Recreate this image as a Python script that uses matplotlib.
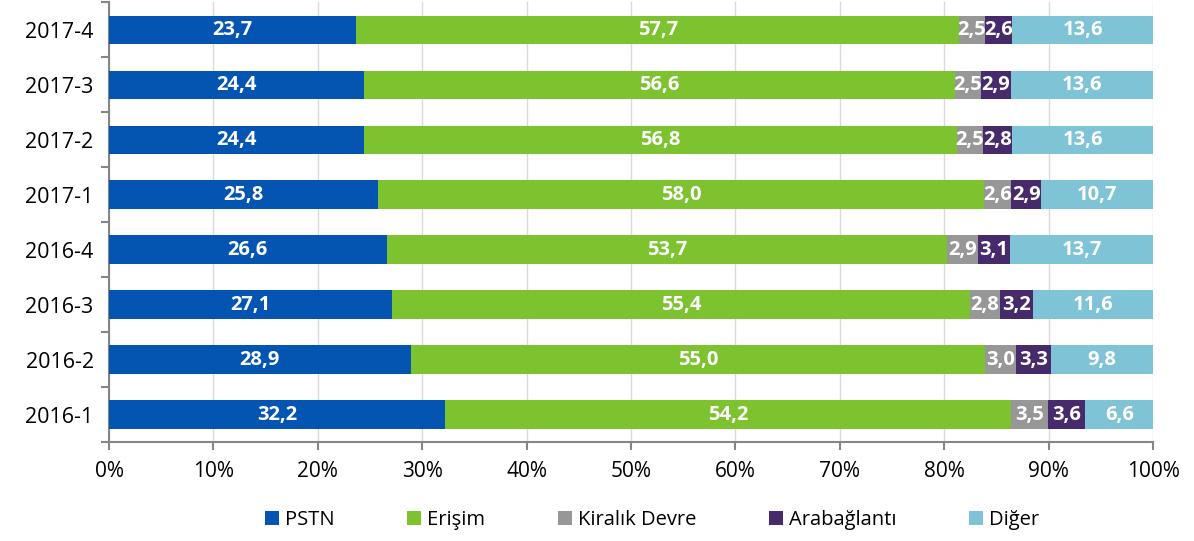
import numpy as np
import matplotlib.pyplot as plt

plt.rcParams["font.family"] = ["Open Sans", "DejaVu Sans"]

periods = ["2016-1", "2016-2", "2016-3", "2016-4", "2017-1", "2017-2", "2017-3", "2017-4"]
pstn = [32.2, 28.9, 27.1, 26.6, 25.8, 24.4, 24.4, 23.7]
erisim = [54.2, 55.0, 55.4, 53.7, 58.0, 56.8, 56.6, 57.7]
kiralik = [3.5, 3.0, 2.8, 2.9, 2.6, 2.5, 2.5, 2.5]
arabaglanti = [3.6, 3.3, 3.2, 3.1, 2.9, 2.8, 2.9, 2.6]
diger = [6.6, 9.8, 11.6, 13.7, 10.7, 13.6, 13.6, 13.6]

series = [
    ("PSTN", pstn, "#0455b2"),
    ("Erişim", erisim, "#7dc22f"),
    ("Kiralık Devre", kiralik, "#979797"),
    ("Arabağlantı", arabaglanti, "#472a6b"),
    ("Diğer", diger, "#7fc3d6"),
]

fig = plt.figure(figsize=(11.94, 5.41), dpi=100)
ax = fig.add_axes([0.0913, 0.183, 0.8744, 0.8125])

y = np.arange(len(periods))
left = np.zeros(len(periods))
for name, vals, col in series:
    vals = np.array(vals)
    ax.barh(y, vals, left=left, height=0.52, color=col, label=name, zorder=3)
    for yi, l, v in zip(y, left, vals):
        ax.text(l + v / 2, yi, f"{v:.1f}".replace(".", ","), ha="center", va="center",
                color="white", fontsize=14.5, fontweight="bold", zorder=4)
    left += vals

ax.set_xlim(0, 100)
ax.set_ylim(-0.5, len(periods) - 0.5)
ax.set_xticks(np.arange(0, 101, 10))
ax.set_xticklabels([f"{t}%" for t in range(0, 101, 10)], fontsize=15)
ax.set_yticks(y)
ax.set_yticklabels(periods, fontsize=15.5)
ax.set_yticks(np.arange(-0.5, len(periods), 1), minor=True)
ax.tick_params(axis="y", which="major", length=0, pad=11)
ax.tick_params(axis="y", which="minor", length=6, color="#868686", width=1.5)
ax.tick_params(axis="x", length=6, color="#868686", width=1.5, pad=8)
ax.grid(axis="x", color="#d9d9d9", lw=1, zorder=0)
for s in ["top", "right"]:
    ax.spines[s].set_visible(False)
for s in ["left", "bottom"]:
    ax.spines[s].set_color("#868686")
    ax.spines[s].set_linewidth(1.5)

ax.legend(loc="center", bbox_to_anchor=(0.52, -0.178), ncol=5, frameon=False,
          fontsize=14.5, handlelength=0.7, handleheight=0.7, handletextpad=0.3,
          columnspacing=3.6)

fig.savefig("out.png", dpi=100)
